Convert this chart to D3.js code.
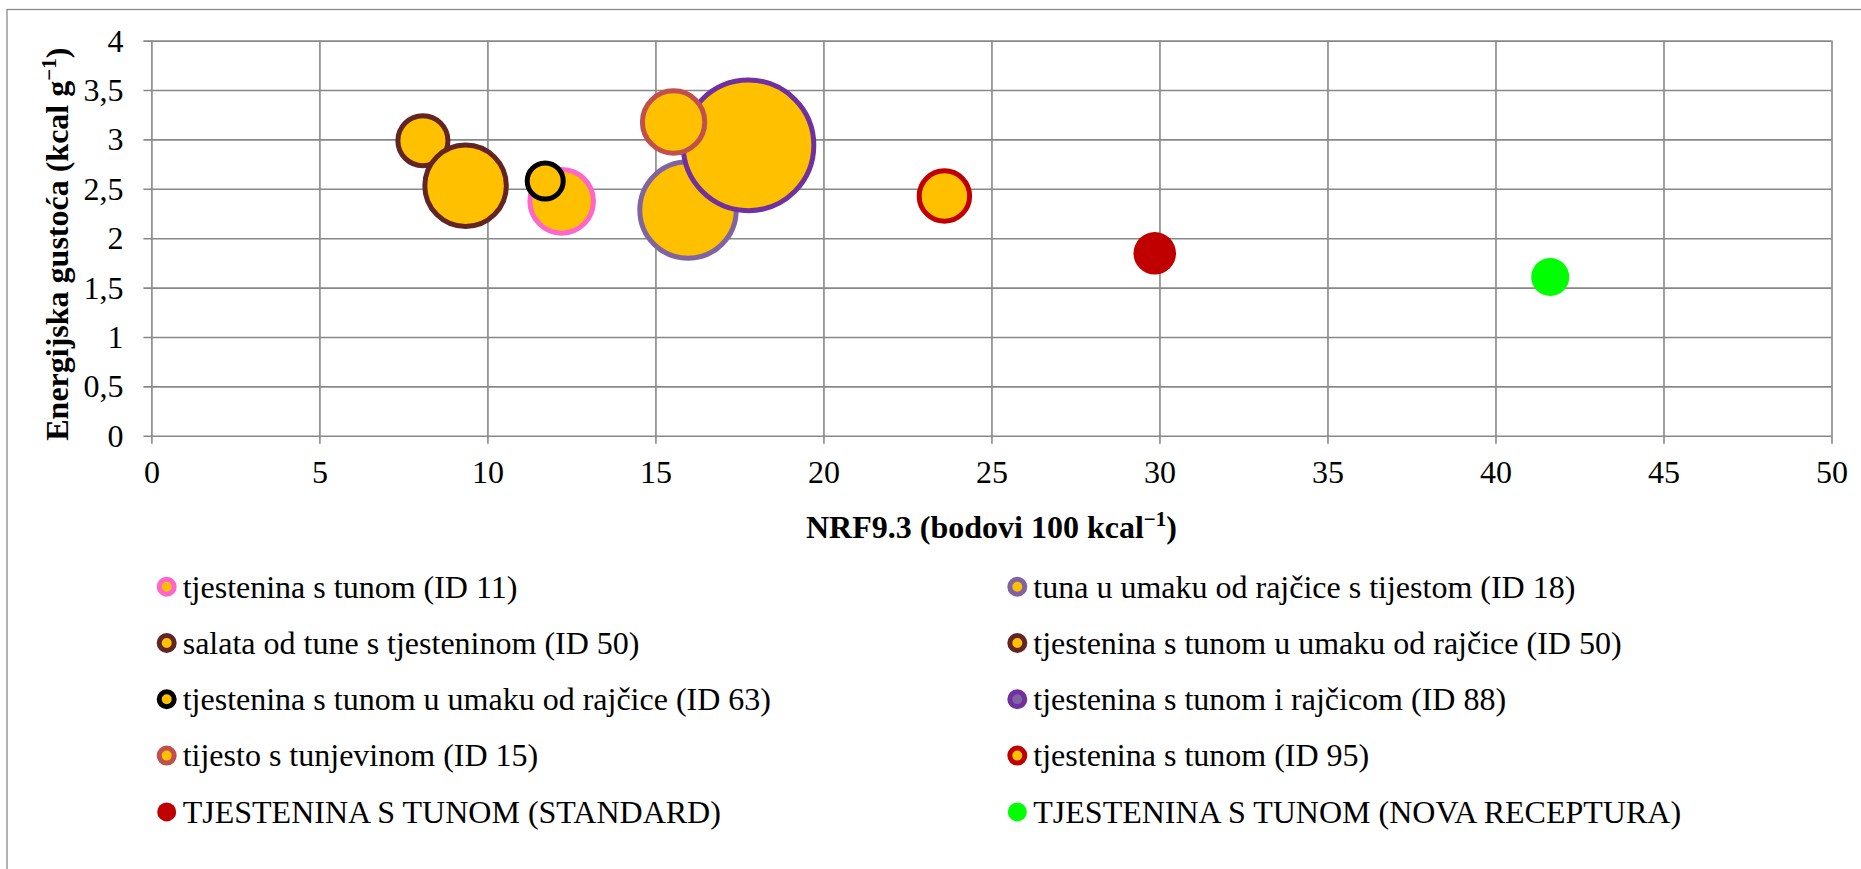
<!DOCTYPE html>
<html>
<head>
<meta charset="utf-8">
<script src="https://cdn.jsdelivr.net/npm/d3@7/dist/d3.min.js"></script>
<style>
  html, body { margin: 0; padding: 0; background: #fff; }
  svg { display: block; }
  text { font-family: "Liberation Serif", "Times New Roman", serif; fill: #000; }
</style>
</head>
<body>
<svg id="chart" width="1861" height="869" font-family="Liberation Serif, Times New Roman, serif"></svg>
<script>
// ---- data ----
const names = [
  "tjestenina s tunom (ID 11)",
  "tuna u umaku od rajčice s tijestom (ID 18)",
  "salata od tune s tjesteninom (ID 50)",
  "tjestenina s tunom u umaku od rajčice (ID 50)",
  "tjestenina s tunom u umaku od rajčice (ID 63)",
  "tjestenina s tunom i rajčicom (ID 88)",
  "tijesto s tunjevinom (ID 15)",
  "tjestenina s tunom (ID 95)",
  "TJESTENINA S TUNOM (STANDARD)",
  "TJESTENINA S TUNOM (NOVA RECEPTURA)"
];
const nrf = [12.21, 15.97, 8.08, 9.35, 11.72, 17.77, 15.54, 23.6, 29.86, 41.63];
const energy = [2.373, 2.285, 2.987, 2.531, 2.579, 2.94, 3.176, 2.427, 1.847, 1.607];
const bubbleSize = [23.7, 54.5, 14.7, 39.0, 7.6, 100, 22.8, 14.9, 10.6, 8.5];
const strokeColors = ["#FF66CC", "#8064A2", "#632523", "#632523", "#000000", "#7030A0", "#C0504D", "#C00000", null, null];
const fillColors = ["#FFC000", "#FFC000", "#FFC000", "#FFC000", "#FFC000", "#FFC000", "#FFC000", "#FFC000", "#C00000", "#00FF00"];
const legendInner = ["#FFC000", "#FFC000", "#FFC000", "#FFC000", "#FFC000", "#8064A2", "#FFC000", "#FFC000", "#C00000", "#00FF00"];
const xTicks = [0, 5, 10, 15, 20, 25, 30, 35, 40, 45, 50];
const yTicks = [0, 0.5, 1, 1.5, 2, 2.5, 3, 3.5, 4];
const xTitle = "NRF9.3 (bodovi 100 kcal";
const yTitle = "Energijska gustoća (kcal g";

// ---- layout ----
const svg = d3.select("#chart");
const plot = { left: 151.4, right: 1831.5, top: 40.6, bottom: 435.8 };
const x = d3.scaleLinear().domain([0, 50]).range([plot.left, plot.right]);
const y = d3.scaleLinear().domain([0, 4]).range([plot.bottom, plot.top]);
const r = d3.scaleSqrt().domain([0, 100]).range([0, 65.3]);
const fmt = v => String(v).replace(".", ",");
const FS = 32;
const FF = "Liberation Serif, Times New Roman, serif";

// outer chart border
svg.append("rect").attr("x", 7).attr("y", 9.5).attr("width", 1900).attr("height", 900)
  .attr("fill", "none").attr("stroke", "#8a8a8a").attr("stroke-width", 1.3);

// grid + axes
const gx = svg.append("g").attr("transform", `translate(0,${plot.bottom})`)
  .call(d3.axisBottom(x).tickValues(xTicks).tickSize(-(plot.bottom - plot.top)).tickFormat(fmt).tickPadding(0));
gx.attr("font-family", FF);
gx.select(".domain").remove();
gx.selectAll(".tick line").attr("stroke", "#888").attr("stroke-width", 1.6).attr("y1", 8);
gx.selectAll(".tick text").attr("font-size", FS).attr("font-family", FF).attr("fill", "#000")
  .attr("dy", null).attr("y", 47.5);

const gy = svg.append("g").attr("transform", `translate(${plot.left},0)`)
  .call(d3.axisLeft(y).tickValues(yTicks).tickSize(-(plot.right - plot.left)).tickFormat(fmt).tickPadding(0));
gy.attr("font-family", FF);
gy.select(".domain").remove();
gy.selectAll(".tick line").attr("stroke", "#888").attr("stroke-width", 1.6).attr("x1", -8);
gy.selectAll(".tick text").attr("font-size", FS).attr("font-family", FF).attr("fill", "#000")
  .attr("x", -28).attr("dy", "0.33em");

// axis titles
const xt = svg.append("text").attr("x", (plot.left + plot.right) / 2).attr("y", 538)
  .attr("text-anchor", "middle").attr("font-size", FS).attr("font-weight", "bold").attr("font-family", FF);
xt.append("tspan").text(xTitle);
xt.append("tspan").attr("dy", -12).attr("font-size", 21).text("−1");
xt.append("tspan").attr("dy", 12).text(")");

const yt = svg.append("text").attr("transform", `translate(68,${(plot.top + plot.bottom) / 2 + 6}) rotate(-90)`)
  .attr("text-anchor", "middle").attr("font-size", FS).attr("font-weight", "bold").attr("font-family", FF);
yt.append("tspan").text(yTitle);
yt.append("tspan").attr("dy", -12).attr("font-size", 21).text("−1");
yt.append("tspan").attr("dy", 12).text(")");

// bubbles
const data = names.map((n, i) => ({ n, x: nrf[i], y: energy[i], s: bubbleSize[i], stroke: strokeColors[i], fill: fillColors[i], inner: legendInner[i] }));
svg.append("g").selectAll("circle").data(data).join("circle")
  .attr("cx", d => x(d.x)).attr("cy", d => y(d.y)).attr("r", d => r(d.s))
  .attr("fill", d => d.fill)
  .attr("stroke", d => d.stroke || "none")
  .attr("stroke-width", d => d.stroke ? 5 : 0);

// legend (2 columns, row-major)
const legCols = [166.7, 1017.3];
const legRow0 = 586.7, legRowStep = 56.3;
const lg = svg.append("g").selectAll("g").data(data).join("g")
  .attr("transform", (d, i) => `translate(${legCols[i % 2]},${legRow0 + Math.floor(i / 2) * legRowStep})`);
lg.append("circle").attr("r", d => d.stroke ? 7.5 : 9.5)
  .attr("fill", d => d.inner)
  .attr("stroke", d => d.stroke || "none")
  .attr("stroke-width", d => d.stroke ? 5 : 0);
lg.append("text").attr("x", 16).attr("y", 10.8).attr("font-size", FS).attr("font-family", FF).text(d => d.n);
</script>
</body>
</html>
